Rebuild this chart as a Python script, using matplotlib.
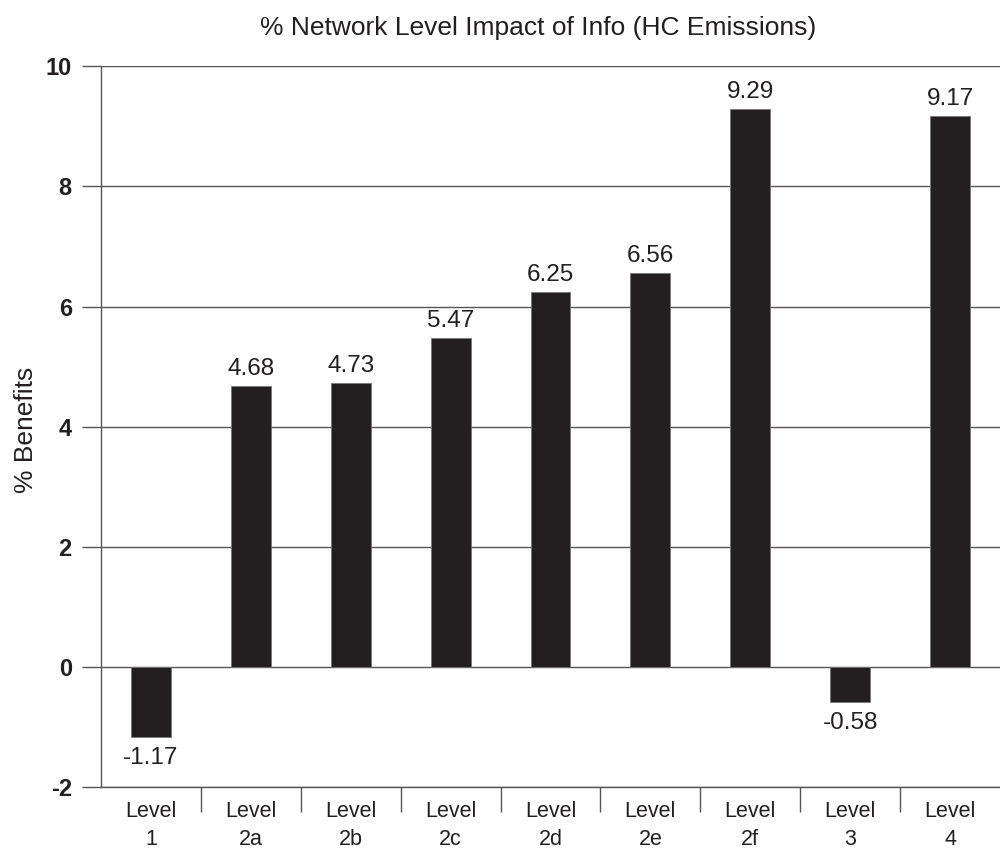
import numpy as np
import matplotlib.pyplot as plt

plt.rcParams['font.family'] = ['Liberation Sans', 'DejaVu Sans']

# data
levels = ["Level\n1", "Level\n2a", "Level\n2b", "Level\n2c", "Level\n2d",
          "Level\n2e", "Level\n2f", "Level\n3", "Level\n4"]
benefits = [-1.17, 4.68, 4.73, 5.47, 6.25, 6.56, 9.29, -0.58, 9.17]
y_ticks = [-2, 0, 2, 4, 6, 8, 10]

bar_color = '#231f20'
grid_color = '#555555'

fig = plt.figure(figsize=(10, 8.5), dpi=100)
ax = fig.add_axes([0.101, 0.074, 0.899, 0.848])

x = np.arange(len(levels))
ax.bar(x, benefits, width=0.4, color=bar_color, edgecolor='#777777', linewidth=0.6, zorder=3)

for xi, v in zip(x, benefits):
    if v >= 0:
        ax.text(xi, v + 0.1, f"{v:.2f}", ha='center', va='bottom', fontsize=17.5, color='#231f20')
    else:
        ax.text(xi, v - 0.17, f"{v:.2f}", ha='center', va='top', fontsize=17.5, color='#231f20')

ax.set_xlim(-0.5, len(levels) - 0.5)
ax.set_ylim(-2, 10)
ax.set_yticks(y_ticks)
ax.set_yticklabels([str(t) for t in y_ticks], fontsize=17, fontweight='bold', color='#231f20')
ax.yaxis.grid(True, color=grid_color, linewidth=1.0, zorder=0)
ax.tick_params(axis='y', length=14, width=1.0, color=grid_color, pad=7)

# category labels centred, ticks at category boundaries
ax.set_xticks(x)
ax.set_xticklabels(levels, fontsize=15.5, color='#231f20', linespacing=1.45)
ax.tick_params(axis='x', which='major', length=0, pad=10)
ax.set_xticks(np.arange(0.5, len(levels) - 0.5, 1), minor=True)
ax.tick_params(axis='x', which='minor', length=18, width=1.0, color=grid_color)

for side in ['top', 'right']:
    ax.spines[side].set_visible(False)
ax.spines['left'].set_color(grid_color)
ax.spines['left'].set_linewidth(1.0)
ax.spines['bottom'].set_color(grid_color)
ax.spines['bottom'].set_linewidth(1.0)

ax.set_ylabel("% Benefits", fontsize=19, color='#231f20')
ax.yaxis.set_label_coords(-0.070, 0.495)
fig.text(0.538, 0.967, "% Network Level Impact of Info (HC Emissions)",
         ha='center', va='center', fontsize=19, color='#231f20')

fig.savefig('out.png', dpi=100)
